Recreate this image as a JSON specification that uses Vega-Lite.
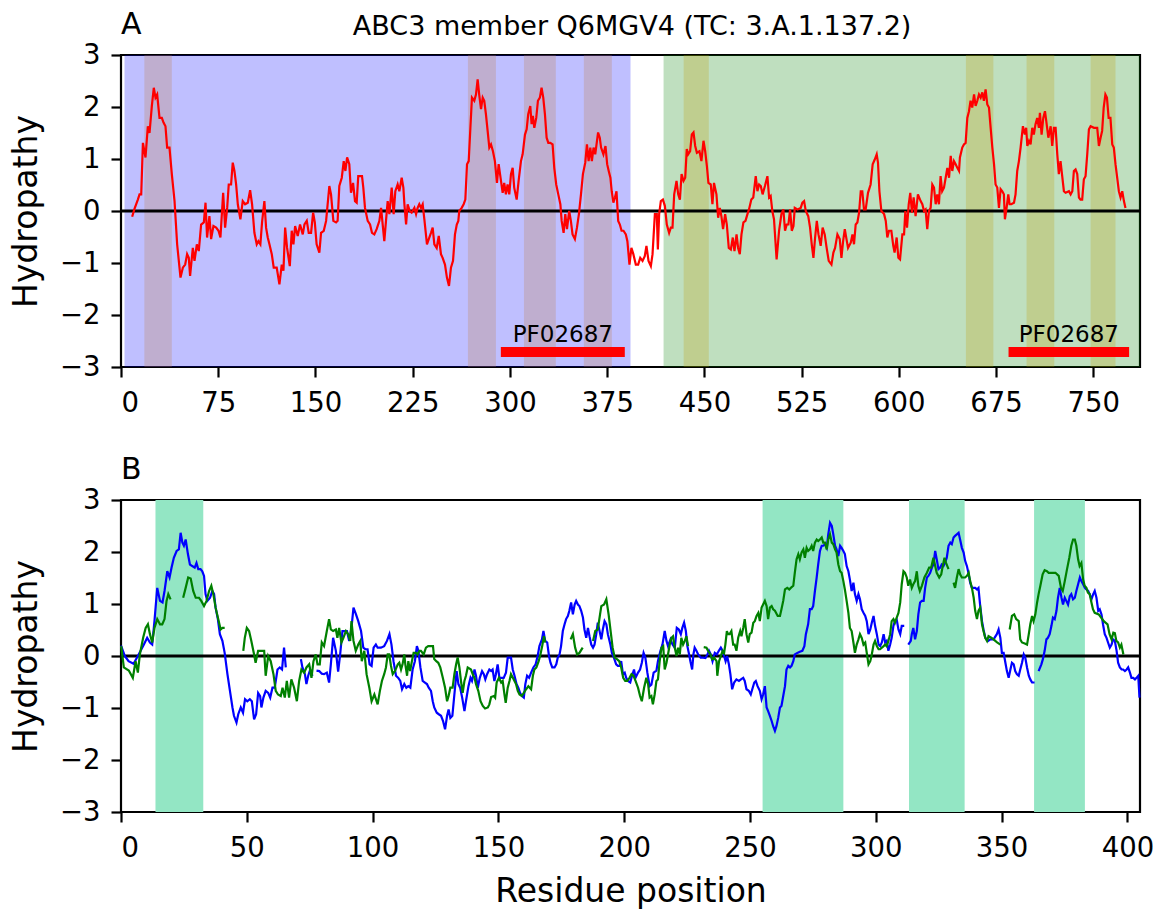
{
"$schema": "https://vega.github.io/schema/vega-lite/v6.json",
"background": "white",
"padding": {"left": 9, "top": 9, "right": 5, "bottom": 5},
"title": {"text": "ABC3 member Q6MGV4 (TC: 3.A.1.137.2)", "anchor": "middle", "fontSize": 27, "fontWeight": "normal", "font": "DejaVu Sans", "color": "black", "offset": -52.6, "dx": 50, "baseline": "alphabetic"},
"config": {
  "font": "DejaVu Sans",
  "view": {"stroke": "black", "strokeWidth": 2.2},
  "axis": {"grid": false, "domain": false, "tickColor": "black", "tickWidth": 2.2, "tickSize": 10, "labelFont": "DejaVu Sans", "labelFontSize": 27.5, "labelColor": "black", "titleFont": "DejaVu Sans", "titleFontSize": 33, "titleFontWeight": "normal", "titleColor": "black"},
  "axisX": {"labelPadding": 12},
  "axisY": {"labelPadding": 11},
  "title": {"font": "DejaVu Sans", "fontWeight": "normal", "color": "black"}
},
"datasets": {
  "tmsA": [{"start":18.0,"end":39.2},{"start":267.6,"end":289.2},{"start":310.8,"end":335.4},{"start":357,"end":378.6},{"start":434,"end":453.4},{"start":651.7,"end":672.9},{"start":698.5,"end":719.9},{"start":747.9,"end":767.1}],
  "regionsA": [{"start":2.7,"end":393,"half":"first"},{"start":418.5,"end":786,"half":"second"}],
  "pfA": [{"start":293,"end":388.6,"center":340.8,"name":"PF02687"},{"start":684.6,"end":777.6,"center":731.1,"name":"PF02687"}],
  "spansB": [{"start":13.7,"end":32.7},{"start":255,"end":287.1},{"start":313.2,"end":335.3},{"start":362.9,"end":383.1}],
  "red": [
{"r":8.6,"h":-0.11},{"r":10.4,"h":0.04},{"r":13,"h":0.22},{"r":14.3,"h":0.32},{"r":15.6,"h":0.32},{"r":16.9,"h":1.31},{"r":18.9,"h":1.03},{"r":20.7,"h":1.63},{"r":22,"h":1.5},{"r":23.8,"h":2.02},{"r":25.3,"h":2.37},{"r":26.6,"h":2.18},{"r":27.9,"h":2.24},{"r":29.7,"h":1.79},{"r":31.5,"h":1.79},{"r":32.8,"h":1.7},{"r":34.3,"h":1.63},{"r":35.6,"h":1.22},{"r":37.4,"h":1.22},{"r":39.2,"h":0.71},{"r":41.3,"h":0.19},{"r":43.3,"h":-0.64},{"r":45.9,"h":-1.28},{"r":47.7,"h":-1.09},{"r":49.5,"h":-1.03},{"r":51,"h":-0.83},{"r":52.3,"h":-0.9},{"r":53.3,"h":-1.25},{"r":55.4,"h":-0.71},{"r":56.7,"h":-0.96},{"r":58.5,"h":-0.64},{"r":60,"h":-0.77},{"r":61.8,"h":-0.26},{"r":63.9,"h":-0.22},{"r":65.2,"h":0.16},{"r":66.4,"h":-0.51},{"r":68.2,"h":-0.1},{"r":69.5,"h":-0.54},{"r":71.3,"h":-0.29},{"r":73.4,"h":-0.32},{"r":75.2,"h":-0.38},{"r":76.7,"h":-0.51},{"r":78.8,"h":0.35},{"r":80.3,"h":-0.32},{"r":81.9,"h":0.06},{"r":83.1,"h":0.51},{"r":84.9,"h":0.51},{"r":86.2,"h":0.93},{"r":87.5,"h":0.77},{"r":88.8,"h":0.51},{"r":90.1,"h":0.13},{"r":92.1,"h":-0.16},{"r":93.9,"h":0.19},{"r":95.7,"h":0.13},{"r":97.8,"h":0.16},{"r":99.6,"h":0.4},{"r":101.1,"h":0.13},{"r":102.9,"h":-0.42},{"r":104.7,"h":-0.64},{"r":106,"h":-0.58},{"r":107.5,"h":-0.64},{"r":108.8,"h":-0.22},{"r":110.6,"h":0.19},{"r":111.9,"h":-0.32},{"r":113.2,"h":-0.51},{"r":114.5,"h":-0.64},{"r":116.3,"h":-0.83},{"r":117.8,"h":-1.09},{"r":120.1,"h":-1.09},{"r":122.2,"h":-1.41},{"r":124,"h":-1.03},{"r":125.3,"h":-1.15},{"r":126.6,"h":-0.32},{"r":128.1,"h":-0.71},{"r":130.2,"h":-1.06},{"r":131.7,"h":-0.38},{"r":133,"h":-0.64},{"r":134.3,"h":-0.29},{"r":136.3,"h":-0.48},{"r":138.1,"h":-0.26},{"r":140.2,"h":-0.45},{"r":141.5,"h":-0.26},{"r":143.3,"h":-0.19},{"r":144.8,"h":-0.42},{"r":146.6,"h":-0.42},{"r":148.2,"h":-0.03},{"r":149.5,"h":-0.22},{"r":150.9,"h":-0.64},{"r":153,"h":-0.8},{"r":154.3,"h":-0.42},{"r":156.4,"h":-0.38},{"r":158.2,"h":-0.19},{"r":160.7,"h":0.48},{"r":162,"h":0.32},{"r":163.8,"h":-0.19},{"r":165.9,"h":-0.22},{"r":167.1,"h":-0.19},{"r":168.4,"h":0.48},{"r":170.3,"h":0.64},{"r":171.8,"h":0.96},{"r":173.1,"h":0.77},{"r":174.4,"h":1.03},{"r":176.1,"h":0.9},{"r":177.4,"h":0.35},{"r":179,"h":0.54},{"r":180.5,"h":0.19},{"r":181.8,"h":0.16},{"r":183,"h":0.67},{"r":184.5,"h":0.67},{"r":185.9,"h":0.67},{"r":186.9,"h":0.45},{"r":188.2,"h":0.06},{"r":190.3,"h":-0.19},{"r":192.1,"h":-0.26},{"r":193.6,"h":-0.42},{"r":195.4,"h":-0.45},{"r":197.2,"h":-0.35},{"r":199.3,"h":-0.19},{"r":200.6,"h":0.06},{"r":203.1,"h":-0.58},{"r":204.4,"h":-0.19},{"r":205.7,"h":0.19},{"r":207,"h":-0.06},{"r":208.8,"h":0.45},{"r":210.3,"h":-0.06},{"r":211.6,"h":0.38},{"r":213.4,"h":0.51},{"r":214.7,"h":0.38},{"r":216.5,"h":0.64},{"r":217.8,"h":0.45},{"r":218.6,"h":0.13},{"r":219.9,"h":-0.26},{"r":221.1,"h":0.13},{"r":222.7,"h":0},{"r":224.2,"h":-0.03},{"r":226.3,"h":0.06},{"r":227.6,"h":-0.06},{"r":228.8,"h":0.06},{"r":230.1,"h":0.13},{"r":231.4,"h":0.06},{"r":232.7,"h":0.13},{"r":234,"h":-0.16},{"r":236,"h":-0.64},{"r":237.8,"h":-0.51},{"r":239.1,"h":-0.42},{"r":240.4,"h":-0.32},{"r":241.7,"h":-0.64},{"r":243.5,"h":-0.71},{"r":245.1,"h":-0.48},{"r":246.8,"h":-0.83},{"r":248.1,"h":-0.9},{"r":249.9,"h":-1.03},{"r":251.4,"h":-1.28},{"r":253,"h":-1.44},{"r":254.5,"h":-1.09},{"r":256.1,"h":-0.96},{"r":257.6,"h":-0.45},{"r":259,"h":-0.26},{"r":260.2,"h":-0.19},{"r":260.9,"h":0},{"r":262.8,"h":0.06},{"r":264.3,"h":0.13},{"r":265.6,"h":0.22},{"r":266.9,"h":0.9},{"r":268.2,"h":0.96},{"r":269.5,"h":1.6},{"r":270.7,"h":2.18},{"r":272.5,"h":2.12},{"r":273.8,"h":2.24},{"r":275.1,"h":2.53},{"r":276.3,"h":2.24},{"r":277.7,"h":1.96},{"r":279,"h":2.18},{"r":280.2,"h":2.12},{"r":281.5,"h":1.86},{"r":282.8,"h":1.54},{"r":284.1,"h":1.22},{"r":285.4,"h":1.28},{"r":286.9,"h":1.15},{"r":288.4,"h":0.96},{"r":290,"h":0.54},{"r":291.3,"h":0.9},{"r":293.1,"h":0.58},{"r":294.4,"h":0.35},{"r":295.6,"h":0.54},{"r":296.9,"h":0.32},{"r":298.2,"h":0.51},{"r":299.5,"h":0.32},{"r":300.8,"h":0.71},{"r":302.1,"h":0.83},{"r":303.3,"h":0.45},{"r":305.2,"h":0.22},{"r":306.7,"h":0.58},{"r":308.5,"h":0.96},{"r":309.8,"h":1.09},{"r":311.6,"h":1.47},{"r":312.9,"h":1.57},{"r":314.1,"h":1.86},{"r":315.7,"h":2.02},{"r":316.7,"h":1.67},{"r":317.7,"h":1.83},{"r":318.8,"h":1.6},{"r":320.3,"h":1.79},{"r":321.6,"h":2.12},{"r":323.1,"h":2.18},{"r":324.4,"h":2.37},{"r":325.7,"h":2.18},{"r":327,"h":1.86},{"r":328.3,"h":1.41},{"r":329.6,"h":1.31},{"r":331.1,"h":1.31},{"r":332.9,"h":1.28},{"r":334.2,"h":0.83},{"r":335.7,"h":0.51},{"r":337.3,"h":0.32},{"r":338.9,"h":0.13},{"r":339.9,"h":-0.19},{"r":341.4,"h":-0.42},{"r":342.7,"h":-0.06},{"r":344,"h":-0.35},{"r":345.7,"h":0},{"r":347,"h":-0.19},{"r":348.3,"h":-0.45},{"r":350.1,"h":-0.54},{"r":351.7,"h":-0.32},{"r":353.2,"h":-0.06},{"r":354.8,"h":0.32},{"r":356.3,"h":0.71},{"r":358.1,"h":0.93},{"r":359.4,"h":1.28},{"r":360.7,"h":0.96},{"r":362,"h":1.22},{"r":363.2,"h":0.96},{"r":364.5,"h":1.22},{"r":365.8,"h":1.09},{"r":368,"h":1.51},{"r":369.3,"h":1.41},{"r":370.3,"h":1.22},{"r":372.1,"h":1.09},{"r":373.7,"h":1.25},{"r":375,"h":0.9},{"r":376.2,"h":0.77},{"r":377.5,"h":0.64},{"r":378.5,"h":0.38},{"r":379.8,"h":0.16},{"r":381,"h":0.26},{"r":382.2,"h":0.38},{"r":383.5,"h":-0.19},{"r":384.8,"h":-0.26},{"r":386.1,"h":-0.38},{"r":387.6,"h":-0.38},{"r":389.4,"h":-0.45},{"r":390.6,"h":-0.58},{"r":392.2,"h":-1.03},{"r":393.7,"h":-0.71},{"r":395.2,"h":-0.83},{"r":397.1,"h":-1.03},{"r":398.9,"h":-1.03},{"r":400.5,"h":-0.9},{"r":402.3,"h":-0.96},{"r":404,"h":-0.87},{"r":405.3,"h":-0.67},{"r":406.9,"h":-0.96},{"r":408.7,"h":-1.06},{"r":410,"h":-0.83},{"r":411.8,"h":-0.06},{"r":413.3,"h":-0.06},{"r":414.1,"h":-0.74},{"r":415.1,"h":-0.06},{"r":416.4,"h":0.19},{"r":418,"h":0.22},{"r":419.5,"h":0.1},{"r":421,"h":-0.26},{"r":422.8,"h":-0.42},{"r":424.1,"h":-0.32},{"r":425.4,"h":-0.32},{"r":426.7,"h":0.32},{"r":428.5,"h":0.58},{"r":429.8,"h":0.32},{"r":431.1,"h":0.22},{"r":432.4,"h":0.71},{"r":433.9,"h":0.58},{"r":435.2,"h":0.64},{"r":436.4,"h":1.19},{"r":437.5,"h":1.09},{"r":439,"h":1.15},{"r":440.3,"h":1.47},{"r":441.6,"h":1.51},{"r":442.9,"h":1.25},{"r":444.2,"h":1.12},{"r":446.2,"h":1.15},{"r":447.7,"h":0.96},{"r":449.3,"h":1.35},{"r":450.6,"h":1.15},{"r":451.9,"h":0.87},{"r":453.1,"h":0.54},{"r":454.9,"h":0.51},{"r":456.2,"h":0.13},{"r":457.4,"h":0.54},{"r":459.3,"h":0.32},{"r":460.6,"h":-0.13},{"r":461.9,"h":0.06},{"r":463.1,"h":-0.1},{"r":464.4,"h":-0.35},{"r":466,"h":-0.06},{"r":467.3,"h":-0.26},{"r":468.8,"h":-0.71},{"r":470.4,"h":-0.74},{"r":471.9,"h":-0.51},{"r":473.2,"h":-0.77},{"r":474.8,"h":-0.45},{"r":476,"h":-0.71},{"r":477.3,"h":-0.83},{"r":478.6,"h":-0.45},{"r":480.1,"h":-0.22},{"r":481.7,"h":-0.19},{"r":483.2,"h":-0.06},{"r":484.4,"h":0.03},{"r":486.2,"h":0.22},{"r":487.7,"h":0.26},{"r":489.6,"h":0.67},{"r":490.9,"h":0.38},{"r":492.2,"h":0.51},{"r":493.5,"h":0.48},{"r":494.9,"h":0.32},{"r":496.7,"h":0.48},{"r":498.6,"h":0.67},{"r":499.9,"h":0.26},{"r":501.1,"h":0.29},{"r":502.4,"h":0},{"r":503.7,"h":-0.16},{"r":505.7,"h":-0.93},{"r":507.6,"h":-0.38},{"r":509.4,"h":-0.06},{"r":510.9,"h":0.03},{"r":512.2,"h":-0.38},{"r":513.5,"h":-0.26},{"r":514.8,"h":-0.26},{"r":516.1,"h":0.03},{"r":517.4,"h":-0.38},{"r":518.7,"h":-0.29},{"r":519.7,"h":0.06},{"r":521.8,"h":0.03},{"r":524.3,"h":0.06},{"r":525.6,"h":0.16},{"r":526.9,"h":0.19},{"r":528.2,"h":0},{"r":530.1,"h":-0.1},{"r":531.5,"h":-0.32},{"r":532.8,"h":-0.64},{"r":534.1,"h":-0.9},{"r":535.4,"h":-0.51},{"r":536.7,"h":-0.19},{"r":538,"h":-0.45},{"r":539.7,"h":-0.67},{"r":541.2,"h":-0.32},{"r":542.8,"h":-0.45},{"r":544.3,"h":-0.71},{"r":545.9,"h":-0.96},{"r":548,"h":-1.03},{"r":549.5,"h":-0.8},{"r":550.8,"h":-0.71},{"r":552.6,"h":-0.45},{"r":554.4,"h":-0.54},{"r":555.7,"h":-0.9},{"r":557,"h":-0.58},{"r":558.3,"h":-0.35},{"r":559.6,"h":-0.54},{"r":560.8,"h":-0.71},{"r":562.9,"h":-0.61},{"r":564.2,"h":-0.45},{"r":565.4,"h":-0.64},{"r":566.7,"h":-0.26},{"r":568,"h":-0.22},{"r":569.3,"h":-0.03},{"r":570.6,"h":0.38},{"r":571.8,"h":0.38},{"r":573.1,"h":0.03},{"r":574.4,"h":0.03},{"r":576.2,"h":0.35},{"r":578.2,"h":0.51},{"r":579.8,"h":0.9},{"r":581.4,"h":0.99},{"r":582.9,"h":1.09},{"r":583.9,"h":0.93},{"r":585,"h":0.38},{"r":586.5,"h":0},{"r":588.6,"h":-0.06},{"r":589.9,"h":-0.19},{"r":591.1,"h":-0.51},{"r":592.4,"h":-0.38},{"r":594.2,"h":-0.38},{"r":595.7,"h":-0.67},{"r":596.7,"h":-0.8},{"r":598.3,"h":-0.51},{"r":599.6,"h":-0.9},{"r":600.9,"h":-0.93},{"r":602.7,"h":-0.45},{"r":604,"h":-0.45},{"r":605,"h":0},{"r":606.3,"h":-0.32},{"r":607.6,"h":0.13},{"r":608.8,"h":0.35},{"r":610.1,"h":-0.03},{"r":611.4,"h":0.26},{"r":612.9,"h":-0.1},{"r":614.7,"h":0.32},{"r":616.8,"h":0.19},{"r":618.1,"h":0.13},{"r":619.4,"h":0},{"r":620.6,"h":0.03},{"r":621.9,"h":-0.35},{"r":623.2,"h":0},{"r":624.5,"h":0.06},{"r":625.8,"h":0.51},{"r":627.1,"h":0.45},{"r":628.4,"h":0.13},{"r":629.6,"h":0.32},{"r":630.9,"h":0.13},{"r":632.2,"h":0.67},{"r":633.4,"h":0.38},{"r":634.8,"h":0.45},{"r":636.1,"h":0.64},{"r":637.4,"h":0.83},{"r":638.7,"h":0.64},{"r":640,"h":1.06},{"r":641.2,"h":0.77},{"r":642.5,"h":0.96},{"r":643.8,"h":0.9},{"r":645.1,"h":0.83},{"r":646.4,"h":0.77},{"r":647.1,"h":1.03},{"r":648.9,"h":1.22},{"r":650.2,"h":1.28},{"r":651.5,"h":1.31},{"r":652.8,"h":1.79},{"r":654.1,"h":1.92},{"r":655.3,"h":2.12},{"r":656.6,"h":1.99},{"r":658,"h":2.24},{"r":659.2,"h":2.02},{"r":660.5,"h":2.12},{"r":661.8,"h":2.24},{"r":663.1,"h":2.18},{"r":664.4,"h":2.28},{"r":665.6,"h":2.12},{"r":666.9,"h":2.34},{"r":668.2,"h":2.05},{"r":669.5,"h":1.99},{"r":670.8,"h":1.6},{"r":672.1,"h":1.22},{"r":673.4,"h":0.9},{"r":674.6,"h":0.51},{"r":675.9,"h":0.45},{"r":677.2,"h":0.06},{"r":678.5,"h":0.42},{"r":679.8,"h":0.38},{"r":681,"h":0.32},{"r":681.8,"h":-0.16},{"r":683.1,"h":0.06},{"r":684.4,"h":0.32},{"r":685.4,"h":0.13},{"r":686.7,"h":0.13},{"r":688.8,"h":0.16},{"r":690,"h":0.32},{"r":691.3,"h":0.77},{"r":692.6,"h":0.96},{"r":693.9,"h":1.22},{"r":695.7,"h":1.63},{"r":697.2,"h":1.47},{"r":698.2,"h":1.6},{"r":699.1,"h":1.25},{"r":700.4,"h":1.35},{"r":701.6,"h":1.28},{"r":702.9,"h":1.6},{"r":704.1,"h":1.47},{"r":705.4,"h":1.67},{"r":706.7,"h":1.79},{"r":708,"h":1.6},{"r":708.8,"h":1.89},{"r":710.1,"h":1.47},{"r":711.4,"h":1.79},{"r":712.7,"h":1.92},{"r":714,"h":1.67},{"r":715.3,"h":1.41},{"r":717.1,"h":1.63},{"r":718.3,"h":1.25},{"r":719.6,"h":1.6},{"r":720.9,"h":1.6},{"r":722.2,"h":1.09},{"r":723.4,"h":0.71},{"r":724.7,"h":0.96},{"r":726,"h":0.67},{"r":727.3,"h":0.38},{"r":728.6,"h":0.35},{"r":731.2,"h":0.38},{"r":732.5,"h":0.32},{"r":733.8,"h":0.38},{"r":735,"h":0.77},{"r":736.3,"h":0.8},{"r":737.6,"h":0.71},{"r":738.9,"h":0.26},{"r":740.1,"h":0.22},{"r":741.4,"h":0.22},{"r":742.7,"h":0.61},{"r":744,"h":0.67},{"r":745.3,"h":1.09},{"r":746.6,"h":1.57},{"r":747.9,"h":1.63},{"r":750.5,"h":1.6},{"r":753,"h":1.6},{"r":754.3,"h":1.25},{"r":755.6,"h":1.41},{"r":756.8,"h":1.54},{"r":758,"h":1.99},{"r":759.3,"h":2.24},{"r":760.5,"h":2.18},{"r":761.8,"h":1.79},{"r":763.2,"h":1.79},{"r":764.6,"h":1.28},{"r":765.8,"h":1.22},{"r":767.1,"h":0.9},{"r":768.4,"h":0.64},{"r":769.7,"h":0.38},{"r":771,"h":0.26},{"r":772.3,"h":0.38},{"r":773.6,"h":0.19},{"r":774.8,"h":0.06}
  ],
  "blue": [
{"r":0,"h":0.2,"s":1},{"r":1.5,"h":0.0,"s":1},{"r":3,"h":-0.1,"s":1},{"r":5,"h":-0.15,"s":1},{"r":6.7,"h":0,"s":1},{"r":7.8,"h":0.1,"s":1},{"r":9.1,"h":0.22,"s":1},{"r":10.4,"h":0.35,"s":1},{"r":11.5,"h":0.26,"s":1},{"r":12.4,"h":0.22,"s":1},{"r":13.3,"h":0.67,"s":1},{"r":14.4,"h":1.31,"s":1},{"r":15.5,"h":1.06,"s":1},{"r":16.5,"h":1.03,"s":1},{"r":17.3,"h":1.25,"s":1},{"r":18.4,"h":1.63,"s":1},{"r":19.3,"h":1.51,"s":1},{"r":20.1,"h":1.7,"s":1},{"r":21,"h":1.89,"s":1},{"r":22.1,"h":2.02,"s":1},{"r":23,"h":2.05,"s":1},{"r":23.7,"h":2.37,"s":1},{"r":24.4,"h":2.18,"s":1},{"r":25,"h":2.12,"s":1},{"r":25.7,"h":2.24,"s":1},{"r":26.6,"h":1.96,"s":1},{"r":27.4,"h":1.76,"s":1},{"r":28.3,"h":1.73,"s":1},{"r":29.3,"h":1.7,"s":1},{"r":30,"h":1.79,"s":1},{"r":30.7,"h":1.67,"s":1},{"r":31.6,"h":1.67,"s":1},{"r":32.3,"h":1.63,"s":1},{"r":33,"h":1.54,"s":1},{"r":33.6,"h":1.19,"s":1},{"r":34.3,"h":1.06,"s":1},{"r":35.4,"h":1.12,"s":1},{"r":36.3,"h":1.25,"s":1},{"r":37,"h":1.19,"s":1},{"r":37.6,"h":0.93,"s":1},{"r":38.5,"h":0.71,"s":1},{"r":39.3,"h":0.42,"s":1},{"r":40.3,"h":0.29,"s":1},{"r":41.2,"h":0.06,"s":1},{"r":42.3,"h":-0.35,"s":1},{"r":43.3,"h":-0.67,"s":1},{"r":44.3,"h":-0.99,"s":1},{"r":44.9,"h":-1.15,"s":1},{"r":45.9,"h":-1.28,"s":1},{"r":46.6,"h":-1.12,"s":1},{"r":47.6,"h":-0.99,"s":1},{"r":48.5,"h":-1.09,"s":1},{"r":49.3,"h":-0.83,"s":1},{"r":50.2,"h":-0.87,"s":1},{"r":51.2,"h":-0.83,"s":1},{"r":52,"h":-0.87,"s":1},{"r":52.9,"h":-1.22,"s":1},{"r":53.7,"h":-1.12,"s":1},{"r":54.5,"h":-0.71,"s":1},{"r":55.3,"h":-0.77,"s":1},{"r":55.8,"h":-0.99,"s":1},{"r":56.6,"h":-0.8,"s":1},{"r":57.5,"h":-0.67,"s":1},{"r":58.5,"h":-0.71,"s":1},{"r":59.3,"h":-0.8,"s":1},{"r":60.2,"h":-0.61,"s":1},{"r":61.1,"h":-0.61,"s":1},{"r":62.2,"h":-0.26,"s":1},{"r":63.1,"h":-0.22,"s":1},{"r":64,"h":-0.26,"s":1},{"r":64.8,"h":0.16,"s":1},{"r":65.5,"h":-0.22,"s":1},
{"r":71.5,"h":-0.06,"s":2},{"r":72.1,"h":-0.22,"s":2},{"r":73.1,"h":-0.35,"s":2},{"r":73.7,"h":-0.54,"s":2},{"r":74.4,"h":-0.38,"s":2},{"r":75.2,"h":-0.26,"s":2},{"r":76.1,"h":-0.38,"s":2},
{"r":77.7,"h":-0.28,"s":3},{"r":78.8,"h":-0.29,"s":3},{"r":79.8,"h":-0.34,"s":3},{"r":80.7,"h":-0.35,"s":3},{"r":81.8,"h":-0.32,"s":3},{"r":82.7,"h":-0.51,"s":3},{"r":83.4,"h":-0.16,"s":3},{"r":84.3,"h":0.35,"s":3},{"r":85.4,"h":0.1,"s":3},{"r":86.3,"h":-0.3,"s":3},{"r":87.1,"h":0.03,"s":3},{"r":88,"h":0.48,"s":3},{"r":89,"h":0.48,"s":3},{"r":89.8,"h":0.48,"s":3},{"r":90.7,"h":0.29,"s":3},{"r":91.6,"h":0.54,"s":3},{"r":92.4,"h":0.93,"s":3},{"r":93.4,"h":0.8,"s":3},{"r":94.3,"h":0.67,"s":3},{"r":95.4,"h":0.48,"s":3},{"r":96.3,"h":0.16,"s":3},{"r":97.1,"h":0.13,"s":3},{"r":98,"h":0.13,"s":3},{"r":98.8,"h":-0.16,"s":3},{"r":99.6,"h":-0.19,"s":3},{"r":100.4,"h":0.16,"s":3},{"r":101.3,"h":0.22,"s":3},{"r":102,"h":0.16,"s":3},{"r":103.3,"h":0.16,"s":3},{"r":104.6,"h":0.19,"s":3},{"r":105.7,"h":0.29,"s":3},{"r":106.7,"h":0.42,"s":3},{"r":107.5,"h":0.22,"s":3},{"r":108.3,"h":-0.1,"s":3},{"r":109.3,"h":-0.38,"s":3},{"r":110.2,"h":-0.42,"s":3},{"r":111,"h":-0.48,"s":3},{"r":111.7,"h":-0.64,"s":3},{"r":112.6,"h":-0.54,"s":3},{"r":113.4,"h":-0.61,"s":3},{"r":114.2,"h":-0.58,"s":3},{"r":115,"h":-0.61,"s":3},{"r":115.9,"h":-0.26,"s":3},{"r":116.8,"h":-0.1,"s":3},{"r":117.6,"h":0.19,"s":3},{"r":118.2,"h":0.1,"s":3},{"r":119,"h":-0.22,"s":3},{"r":119.9,"h":-0.48,"s":3},{"r":120.8,"h":-0.51,"s":3},{"r":121.6,"h":-0.54,"s":3},{"r":122.3,"h":-0.61,"s":3},{"r":123.2,"h":-0.67,"s":3},{"r":123.9,"h":-0.87,"s":3},{"r":124.5,"h":-0.99,"s":3},{"r":125.5,"h":-1.09,"s":3},{"r":126.3,"h":-1.12,"s":3},{"r":127.2,"h":-1.15,"s":3},{"r":128,"h":-1.25,"s":3},{"r":128.8,"h":-1.41,"s":3},{"r":129.6,"h":-1.15,"s":3},{"r":130.2,"h":-1.03,"s":3},{"r":130.9,"h":-1.19,"s":3},{"r":131.7,"h":-1.15,"s":3},{"r":132.5,"h":-0.74,"s":3},{"r":133.4,"h":-0.29,"s":3},{"r":134.1,"h":-0.54,"s":3},{"r":134.8,"h":-0.61,"s":3},{"r":135.6,"h":-0.8,"s":3},{"r":136.5,"h":-1.06,"s":3},{"r":137.1,"h":-0.87,"s":3},{"r":138.1,"h":-0.58,"s":3},{"r":138.9,"h":-0.42,"s":3},{"r":139.5,"h":-0.48,"s":3},{"r":140.5,"h":-0.26,"s":3},{"r":141.1,"h":-0.38,"s":3},{"r":141.8,"h":-0.61,"s":3},{"r":142.6,"h":-0.42,"s":3},{"r":143.5,"h":-0.29,"s":3},{"r":144.2,"h":-0.35,"s":3},{"r":144.8,"h":-0.45,"s":3},{"r":145.5,"h":-0.35,"s":3},{"r":146.4,"h":-0.26,"s":3},{"r":147.1,"h":-0.29,"s":3},{"r":147.7,"h":-0.26,"s":3},{"r":148.4,"h":-0.48,"s":3},{"r":149,"h":-0.35,"s":3},{"r":149.7,"h":-0.16,"s":3},{"r":150.4,"h":-0.42,"s":3},{"r":151.3,"h":-0.42,"s":3},{"r":152.1,"h":-0.42,"s":3},{"r":153,"h":-0.32,"s":3},{"r":153.7,"h":-0.03,"s":3},{"r":155,"h":-0.03,"s":3},{"r":155.7,"h":-0.26,"s":3},{"r":156.4,"h":-0.38,"s":3},{"r":157.2,"h":-0.54,"s":3},{"r":157.9,"h":-0.61,"s":3},{"r":158.6,"h":-0.71,"s":3},{"r":159.4,"h":-0.77,"s":3},{"r":160.1,"h":-0.8,"s":3},{"r":160.7,"h":-0.54,"s":3},{"r":161.4,"h":-0.38,"s":3},{"r":162.2,"h":-0.42,"s":3},{"r":163,"h":-0.32,"s":3},{"r":163.9,"h":-0.22,"s":3},{"r":164.8,"h":-0.16,"s":3},{"r":165.6,"h":0,"s":3},{"r":166.3,"h":0.19,"s":3},{"r":167.3,"h":0.32,"s":3},{"r":167.9,"h":0.48,"s":3},{"r":168.6,"h":0.29,"s":3},{"r":169.4,"h":0.26,"s":3},{"r":170.1,"h":0,"s":3},{"r":170.7,"h":-0.13,"s":3},{"r":171.4,"h":-0.22,"s":3},{"r":172.3,"h":-0.22,"s":3},{"r":173,"h":-0.16,"s":3},{"r":173.6,"h":-0.03,"s":3},{"r":174.3,"h":0.03,"s":3},{"r":174.9,"h":0.19,"s":3},{"r":175.6,"h":0.48,"s":3},{"r":176.3,"h":0.61,"s":3},{"r":176.9,"h":0.71,"s":3},{"r":177.6,"h":0.77,"s":3},{"r":178.2,"h":0.87,"s":3},{"r":178.9,"h":1.03,"s":3},{"r":179.6,"h":0.8,"s":3},{"r":180.3,"h":0.99,"s":3},{"r":180.9,"h":1.06,"s":3},{"r":181.6,"h":0.99,"s":3},{"r":182.2,"h":0.96,"s":3},{"r":182.9,"h":0.87,"s":3},{"r":183.6,"h":0.74,"s":3},{"r":184.2,"h":0.51,"s":3},{"r":184.9,"h":0.35,"s":3},{"r":185.6,"h":0.54,"s":3},{"r":186.2,"h":0.38,"s":3},{"r":186.9,"h":0.22,"s":3},{"r":187.6,"h":0.16,"s":3},{"r":188.2,"h":0.22,"s":3},{"r":188.9,"h":0.42,"s":3},{"r":189.5,"h":0.64,"s":3},{"r":190.2,"h":0.48,"s":3},{"r":190.9,"h":0.32,"s":3},{"r":191.5,"h":0.51,"s":3},{"r":192.2,"h":0.67,"s":3},{"r":192.9,"h":0.61,"s":3},{"r":193.5,"h":0.42,"s":3},{"r":194.5,"h":0.22,"s":3},{"r":195.1,"h":0.06,"s":3},{"r":195.9,"h":-0.03,"s":3},{"r":196.8,"h":-0.16,"s":3},{"r":197.5,"h":-0.19,"s":3},{"r":198.2,"h":-0.19,"s":3},{"r":198.8,"h":-0.1,"s":3},{"r":199.5,"h":-0.35,"s":3},{"r":200.2,"h":-0.32,"s":3},{"r":200.8,"h":-0.42,"s":3},{"r":201.5,"h":-0.48,"s":3},{"r":202.4,"h":-0.51,"s":3},{"r":203.1,"h":-0.38,"s":3},{"r":203.9,"h":-0.26,"s":3},{"r":204.5,"h":-0.42,"s":3},{"r":205.5,"h":-0.32,"s":3},{"r":206.3,"h":-0.26,"s":3},{"r":207,"h":-0.13,"s":3},{"r":207.7,"h":0.06,"s":3},{"r":208.4,"h":-0.03,"s":3},{"r":209.2,"h":-0.32,"s":3},{"r":210.1,"h":-0.58,"s":3},{"r":210.8,"h":-0.55,"s":3},{"r":211.7,"h":-0.32,"s":3},{"r":212.8,"h":-0.28,"s":3},{"r":213.4,"h":-0.1,"s":3},{"r":214.4,"h":0.1,"s":3},{"r":215.2,"h":0.22,"s":3},{"r":216.1,"h":0.48,"s":3},{"r":216.8,"h":0.29,"s":3},{"r":217.4,"h":0.19,"s":3},{"r":218.4,"h":0.32,"s":3},{"r":219.2,"h":0.22,"s":3},{"r":220.1,"h":0.16,"s":3},{"r":220.9,"h":0.54,"s":3},{"r":221.7,"h":0.51,"s":3},{"r":222.5,"h":0.42,"s":3},{"r":223.1,"h":0.54,"s":3},{"r":223.8,"h":0.64,"s":3},{"r":224.5,"h":0.48,"s":3},{"r":225.1,"h":0.19,"s":3},{"r":225.8,"h":0.03,"s":3},{"r":226.3,"h":-0.1,"s":3},{"r":227,"h":-0.26,"s":3},{"r":227.5,"h":0.03,"s":3},{"r":228,"h":0.16,"s":3},{"r":228.7,"h":0.1,"s":3},{"r":229.4,"h":0.03,"s":3},{"r":230.4,"h":-0.03,"s":3},{"r":231.4,"h":-0.03,"s":3},{"r":232.3,"h":-0.04,"s":3},{"r":233.1,"h":0.03,"s":3},{"r":233.7,"h":0.1,"s":3},{"r":234.4,"h":0.03,"s":3},{"r":235.1,"h":-0.1,"s":3},{"r":236,"h":0.06,"s":3},{"r":236.8,"h":0.03,"s":3},{"r":237.6,"h":0.1,"s":3},{"r":238.4,"h":0.16,"s":3},{"r":239.1,"h":0.1,"s":3},{"r":239.7,"h":0,"s":3},{"r":240.3,"h":-0.1,"s":3},{"r":240.9,"h":0,"s":3},{"r":241.6,"h":-0.16,"s":3},{"r":242.2,"h":-0.35,"s":3},{"r":242.9,"h":-0.64,"s":3},{"r":243.7,"h":-0.51,"s":3},{"r":244.6,"h":-0.45,"s":3},{"r":245.6,"h":-0.48,"s":3},{"r":246.4,"h":-0.45,"s":3},{"r":247.3,"h":-0.42,"s":3},{"r":247.9,"h":-0.48,"s":3},{"r":248.6,"h":-0.64,"s":3},{"r":249.5,"h":-0.67,"s":3},{"r":250.3,"h":-0.74,"s":3},{"r":250.9,"h":-0.64,"s":3},{"r":251.7,"h":-0.51,"s":3},{"r":252.3,"h":-0.48,"s":3},{"r":253,"h":-0.58,"s":3},{"r":253.9,"h":-0.67,"s":3},{"r":254.6,"h":-0.83,"s":3},{"r":255.2,"h":-0.74,"s":3},{"r":255.9,"h":-0.58,"s":3},{"r":256.6,"h":-0.99,"s":3},{"r":257.2,"h":-1.06,"s":3},{"r":257.9,"h":-1.15,"s":3},{"r":258.6,"h":-1.25,"s":3},{"r":259.2,"h":-1.35,"s":3},{"r":259.9,"h":-1.44,"s":3},{"r":260.5,"h":-1.35,"s":3},{"r":261.2,"h":-1.19,"s":3},{"r":261.9,"h":-0.99,"s":3},{"r":262.5,"h":-0.96,"s":3},{"r":263.2,"h":-0.77,"s":3},{"r":263.9,"h":-0.58,"s":3},{"r":264.5,"h":-0.26,"s":3},{"r":265.2,"h":-0.19,"s":3},{"r":265.9,"h":-0.22,"s":3},{"r":266.5,"h":-0.19,"s":3},{"r":267.2,"h":-0.1,"s":3},{"r":267.8,"h":0.03,"s":3},{"r":268.8,"h":0.06,"s":3},{"r":269.8,"h":0.08,"s":3},{"r":270.8,"h":0.1,"s":3},{"r":271.6,"h":0.19,"s":3},{"r":272.2,"h":0.42,"s":3},{"r":273.1,"h":0.61,"s":3},{"r":273.8,"h":0.9,"s":3},{"r":274.5,"h":0.9,"s":3},{"r":275.1,"h":0.96,"s":3},{"r":275.8,"h":1.25,"s":3},{"r":276.5,"h":1.51,"s":3},{"r":277.1,"h":1.76,"s":3},{"r":277.8,"h":2.02,"s":3},{"r":278.5,"h":2.12,"s":3},{"r":279.1,"h":2.12,"s":3},{"r":279.8,"h":2.15,"s":3},{"r":280.5,"h":2.08,"s":3},{"r":281.1,"h":2.34,"s":3},{"r":281.8,"h":2.56,"s":3},{"r":282.5,"h":2.5,"s":3},{"r":283.1,"h":2.34,"s":3},{"r":283.8,"h":2.12,"s":3},{"r":284.4,"h":2.05,"s":3},{"r":285.1,"h":1.92,"s":3},{"r":285.8,"h":2.12,"s":3},{"r":286.4,"h":2.08,"s":3},{"r":287.1,"h":2.02,"s":3},{"r":287.7,"h":1.96,"s":3},{"r":288.4,"h":1.73,"s":3},{"r":289.1,"h":1.63,"s":3},{"r":289.7,"h":1.47,"s":3},{"r":290.4,"h":1.25,"s":3},{"r":291.1,"h":1.41,"s":3},{"r":291.7,"h":1.19,"s":3},{"r":292.4,"h":1.06,"s":3},{"r":293.1,"h":1.19,"s":3},{"r":293.7,"h":1.09,"s":3},{"r":294.4,"h":0.9,"s":3},{"r":295.1,"h":0.83,"s":3},{"r":295.8,"h":0.77,"s":3},{"r":296.4,"h":0.67,"s":3},{"r":297.1,"h":0.42,"s":3},{"r":297.8,"h":0.51,"s":3},{"r":298.4,"h":0.64,"s":3},{"r":299.1,"h":0.77,"s":3},{"r":299.7,"h":0.58,"s":3},{"r":300.4,"h":0.42,"s":3},{"r":301.1,"h":0.22,"s":3},{"r":301.7,"h":0.19,"s":3},{"r":302.4,"h":0.26,"s":3},{"r":303.1,"h":0.42,"s":3},{"r":303.7,"h":0.26,"s":3},{"r":304.3,"h":0.29,"s":3},{"r":305,"h":0.1,"s":3},{"r":305.7,"h":0.22,"s":3},{"r":306.3,"h":0.35,"s":3},{"r":307,"h":0.58,"s":3},{"r":307.6,"h":0.67,"s":3},{"r":308.3,"h":0.7,"s":3},{"r":309,"h":0.51,"s":3},{"r":309.7,"h":0.42,"s":3},{"r":310.3,"h":0.58,"s":3},{"r":311.3,"h":0.58,"s":3},
{"r":312.9,"h":0.22,"s":4},{"r":313.9,"h":0.29,"s":4},{"r":314.3,"h":0.42,"s":4},{"r":314.9,"h":0.54,"s":4},{"r":315.6,"h":0.32,"s":4},{"r":316.3,"h":0.48,"s":4},{"r":316.9,"h":0.8,"s":4},{"r":317.6,"h":1.03,"s":4},{"r":318.3,"h":1.06,"s":4},{"r":319,"h":1.06,"s":4},{"r":319.6,"h":1.31,"s":4},{"r":320.3,"h":1.51,"s":4},{"r":320.9,"h":1.54,"s":4},{"r":321.6,"h":1.6,"s":4},{"r":322.3,"h":1.7,"s":4},{"r":322.9,"h":1.76,"s":4},{"r":323.6,"h":2.02,"s":4},{"r":324.2,"h":1.86,"s":4},{"r":324.9,"h":1.67,"s":4},{"r":325.6,"h":1.7,"s":4},{"r":326.2,"h":1.76,"s":4},{"r":326.9,"h":1.73,"s":4},{"r":327.5,"h":1.79,"s":4},{"r":328.2,"h":1.89,"s":4},{"r":328.9,"h":2.12,"s":4},{"r":329.6,"h":2.18,"s":4},{"r":330.2,"h":2.15,"s":4},{"r":330.9,"h":2.28,"s":4},{"r":331.5,"h":2.31,"s":4},{"r":332.2,"h":2.34,"s":4},{"r":332.9,"h":2.37,"s":4},{"r":333.5,"h":2.24,"s":4},{"r":334.2,"h":2.08,"s":4},{"r":334.9,"h":1.99,"s":4},{"r":335.5,"h":1.83,"s":4},{"r":336.2,"h":1.73,"s":4},{"r":336.8,"h":1.6,"s":4},{"r":337.5,"h":1.41,"s":4},{"r":338.2,"h":1.31,"s":4},{"r":338.9,"h":1.31,"s":4},{"r":339.5,"h":1.31,"s":4},{"r":340.2,"h":1.28,"s":4},{"r":340.8,"h":1.31,"s":4},{"r":341.5,"h":0.96,"s":4},{"r":342.2,"h":0.67,"s":4},{"r":342.8,"h":0.51,"s":4},{"r":343.5,"h":0.35,"s":4},{"r":344.6,"h":0.29,"s":4},{"r":345.5,"h":0.32,"s":4},{"r":346.8,"h":0.32,"s":4},{"r":348.1,"h":0.42,"s":4},{"r":348.8,"h":0.51,"s":4},{"r":349.5,"h":0.35,"s":4},{"r":350.1,"h":0.06,"s":4},{"r":350.8,"h":0.06,"s":4},{"r":351.5,"h":-0.13,"s":4},{"r":352.1,"h":-0.29,"s":4},{"r":352.8,"h":-0.42,"s":4},{"r":353.5,"h":-0.26,"s":4},{"r":354.1,"h":-0.13,"s":4},{"r":354.8,"h":-0.16,"s":4},{"r":355.4,"h":-0.29,"s":4},{"r":356.1,"h":-0.35,"s":4},{"r":356.8,"h":-0.38,"s":4},{"r":357.4,"h":-0.26,"s":4},{"r":358.1,"h":-0.13,"s":4},{"r":358.8,"h":0.03,"s":4},{"r":359.4,"h":-0.03,"s":4},{"r":360.1,"h":-0.22,"s":4},{"r":360.8,"h":-0.38,"s":4},{"r":361.4,"h":-0.45,"s":4},{"r":362.1,"h":-0.51,"s":4},{"r":363.1,"h":-0.51,"s":4},
{"r":364.7,"h":-0.29,"s":5},{"r":365.8,"h":-0.16,"s":5},{"r":366.4,"h":-0.06,"s":5},{"r":367.1,"h":0.1,"s":5},{"r":367.8,"h":0.32,"s":5},{"r":368.4,"h":0.35,"s":5},{"r":369.1,"h":0.42,"s":5},{"r":369.8,"h":0.58,"s":5},{"r":370.4,"h":0.74,"s":5},{"r":371.1,"h":0.71,"s":5},{"r":371.8,"h":0.87,"s":5},{"r":372.4,"h":1.12,"s":5},{"r":373.1,"h":1.31,"s":5},{"r":373.8,"h":1.12,"s":5},{"r":374.4,"h":0.99,"s":5},{"r":375.1,"h":1.12,"s":5},{"r":375.7,"h":1.06,"s":5},{"r":376.4,"h":0.99,"s":5},{"r":377.1,"h":1.15,"s":5},{"r":377.7,"h":1.19,"s":5},{"r":378.4,"h":1.09,"s":5},{"r":379.1,"h":1.12,"s":5},{"r":379.7,"h":1.25,"s":5},{"r":380.4,"h":1.38,"s":5},{"r":381.1,"h":1.51,"s":5},{"r":381.7,"h":1.44,"s":5},{"r":382.4,"h":1.38,"s":5},{"r":383.1,"h":1.31,"s":5},{"r":383.7,"h":1.28,"s":5},{"r":384.4,"h":1.25,"s":5},{"r":385,"h":1.19,"s":5},{"r":385.7,"h":1.09,"s":5},{"r":386.4,"h":1.19,"s":5},{"r":387,"h":1.25,"s":5},{"r":387.7,"h":1.12,"s":5},{"r":388.4,"h":0.87,"s":5},{"r":389,"h":0.9,"s":5},{"r":389.7,"h":0.8,"s":5},{"r":390.3,"h":0.61,"s":5},{"r":391,"h":0.42,"s":5},{"r":391.7,"h":0.35,"s":5},{"r":392.3,"h":0.26,"s":5},{"r":393,"h":0.16,"s":5},{"r":393.7,"h":0.22,"s":5},{"r":394.3,"h":0.32,"s":5},{"r":395,"h":0.29,"s":5},{"r":395.7,"h":0.1,"s":5},{"r":396.3,"h":-0.13,"s":5},{"r":397,"h":-0.22,"s":5},{"r":397.7,"h":-0.26,"s":5},{"r":398.3,"h":-0.26,"s":5},{"r":399,"h":-0.29,"s":5},{"r":399.7,"h":-0.26,"s":5},{"r":400.3,"h":-0.22,"s":5},{"r":401,"h":-0.32,"s":5},{"r":401.6,"h":-0.42,"s":5},{"r":402.3,"h":-0.42,"s":5},{"r":403,"h":-0.45,"s":5},{"r":403.6,"h":-0.42,"s":5},{"r":404.3,"h":-0.38,"s":5},{"r":404.8,"h":-0.8,"s":5}
  ],
  "green": [
{"r":0.07,"h":0.19,"s":1},{"r":1.13,"h":-0.22,"s":1},{"r":3.1,"h":-0.28,"s":1},{"r":4.7,"h":-0.42,"s":1},{"r":5.8,"h":-0.1,"s":1},{"r":6.7,"h":-0.32,"s":1},{"r":7.5,"h":0.03,"s":1},{"r":8.8,"h":0.35,"s":1},{"r":9.8,"h":0.54,"s":1},{"r":10.7,"h":0.61,"s":1},{"r":11.5,"h":0.42,"s":1},{"r":12.4,"h":0.26,"s":1},{"r":13.3,"h":0.54,"s":1},{"r":14.4,"h":0.71,"s":1},{"r":15.5,"h":0.61,"s":1},{"r":16.4,"h":0.61,"s":1},{"r":17.3,"h":0.71,"s":1},{"r":18.1,"h":1.06,"s":1},{"r":18.8,"h":1.19,"s":1},{"r":19.7,"h":1.09,"s":1},
{"r":24.7,"h":1.12,"s":2},{"r":25.7,"h":1.31,"s":2},{"r":26.7,"h":1.51,"s":2},{"r":27.7,"h":1.49,"s":2},{"r":28.7,"h":1.25,"s":2},{"r":29.7,"h":1.12,"s":2},{"r":31,"h":1.12,"s":2},{"r":31.9,"h":1.06,"s":2},{"r":33,"h":0.96,"s":2},{"r":34,"h":1.06,"s":2},{"r":35,"h":1.25,"s":2},{"r":35.9,"h":1.35,"s":2},{"r":36.7,"h":1.19,"s":2},{"r":37.6,"h":0.93,"s":2},{"r":38.5,"h":0.74,"s":2},{"r":39.6,"h":0.51,"s":2},{"r":40.3,"h":0.54,"s":2},{"r":41.2,"h":0.54,"s":2},
{"r":48.6,"h":0.1,"s":3},{"r":49.2,"h":0.35,"s":3},{"r":50,"h":0.54,"s":3},{"r":50.9,"h":0.48,"s":3},{"r":51.8,"h":0.29,"s":3},{"r":52.9,"h":0.03,"s":3},{"r":53.5,"h":-0.13,"s":3},{"r":54.5,"h":0.1,"s":3},{"r":55.5,"h":0.1,"s":3},{"r":56.9,"h":0.1,"s":3},{"r":57.5,"h":-0.38,"s":3},{"r":58.5,"h":0,"s":3},{"r":59.5,"h":-0.1,"s":3},{"r":60.6,"h":-0.35,"s":3},{"r":61.5,"h":-0.67,"s":3},{"r":62.4,"h":-0.74,"s":3},{"r":63.5,"h":-0.77,"s":3},{"r":64.2,"h":-0.61,"s":3},{"r":65.1,"h":-0.8,"s":3},{"r":65.9,"h":-0.48,"s":3},{"r":66.8,"h":-0.8,"s":3},{"r":67.7,"h":-0.45,"s":3},{"r":68.8,"h":-0.61,"s":3},{"r":69.9,"h":-0.87,"s":3},{"r":70.8,"h":-0.48,"s":3},{"r":71.7,"h":-0.26,"s":3},{"r":72.8,"h":-0.32,"s":3},{"r":73.7,"h":-0.22,"s":3},{"r":74.8,"h":-0.16,"s":3},{"r":75.7,"h":-0.42,"s":3},{"r":76.5,"h":-0.1,"s":3},{"r":77.4,"h":0.03,"s":3},{"r":78.1,"h":-0.16,"s":3},{"r":79,"h":-0.16,"s":3},{"r":79.8,"h":0.26,"s":3},{"r":80.7,"h":0.19,"s":3},{"r":81.8,"h":0.48,"s":3},{"r":82.7,"h":0.71,"s":3},{"r":83.4,"h":0.51,"s":3},{"r":84.3,"h":0.48,"s":3},{"r":85.4,"h":0.51,"s":3},{"r":86,"h":0.35,"s":3},{"r":86.7,"h":0.54,"s":3},{"r":87.6,"h":0.26,"s":3},{"r":88.4,"h":0.35,"s":3},{"r":89.4,"h":0.48,"s":3},{"r":90.3,"h":0.42,"s":3},{"r":91.1,"h":0.29,"s":3},{"r":91.6,"h":0.67,"s":3},{"r":92.4,"h":0.29,"s":3},{"r":93.3,"h":0.1,"s":3},{"r":94.3,"h":0.22,"s":3},{"r":95.1,"h":0.29,"s":3},{"r":95.7,"h":-0.1,"s":3},{"r":96.7,"h":0.1,"s":3},{"r":97.6,"h":-0.35,"s":3},{"r":98.7,"h":-0.61,"s":3},{"r":99.6,"h":-0.87,"s":3},{"r":100.7,"h":-0.74,"s":3},{"r":102,"h":-0.93,"s":3},{"r":102.9,"h":-0.67,"s":3},{"r":103.7,"h":-0.48,"s":3},{"r":104.6,"h":-0.35,"s":3},{"r":105.3,"h":-0.22,"s":3},{"r":106,"h":0.03,"s":3},{"r":106.6,"h":0.03,"s":3},{"r":107.3,"h":-0.19,"s":3},{"r":108,"h":-0.35,"s":3},{"r":108.9,"h":-0.29,"s":3},{"r":110,"h":-0.16,"s":3},{"r":110.6,"h":-0.13,"s":3},{"r":111.3,"h":-0.26,"s":3},{"r":111.9,"h":-0.16,"s":3},{"r":112.6,"h":0.03,"s":3},{"r":113,"h":-0.16,"s":3},{"r":113.7,"h":-0.38,"s":3},{"r":114.2,"h":-0.1,"s":3},{"r":114.9,"h":-0.29,"s":3},{"r":115.5,"h":-0.13,"s":3},{"r":116.3,"h":0.06,"s":3},{"r":117.2,"h":0.06,"s":3},{"r":117.9,"h":0.03,"s":3},{"r":118.6,"h":0.1,"s":3},{"r":119.2,"h":0.1,"s":3},{"r":120.3,"h":0.03,"s":3},{"r":121.2,"h":0.16,"s":3},{"r":122.1,"h":0.19,"s":3},{"r":123.2,"h":0.19,"s":3},{"r":124,"h":0.19,"s":3},{"r":124.5,"h":-0.06,"s":3},{"r":125.3,"h":-0.1,"s":3},{"r":126.1,"h":-0.13,"s":3},{"r":126.9,"h":-0.22,"s":3},{"r":127.9,"h":-0.42,"s":3},{"r":128.8,"h":-0.61,"s":3},{"r":129.6,"h":-0.87,"s":3},{"r":130.2,"h":-0.77,"s":3},{"r":130.9,"h":-0.61,"s":3},{"r":131.8,"h":-0.61,"s":3},{"r":132.5,"h":-0.35,"s":3},{"r":133.2,"h":-0.16,"s":3},{"r":133.8,"h":-0.03,"s":3},{"r":134.5,"h":-0.22,"s":3},{"r":135.2,"h":-0.51,"s":3},{"r":135.8,"h":-0.71,"s":3},{"r":136.5,"h":-0.48,"s":3},{"r":137.1,"h":-0.38,"s":3},{"r":137.8,"h":-0.22,"s":3},{"r":139.1,"h":-0.26,"s":3},{"r":139.8,"h":-0.35,"s":3},{"r":140.5,"h":-0.42,"s":3},{"r":141.1,"h":-0.54,"s":3},{"r":142,"h":-0.67,"s":3},{"r":142.9,"h":-0.87,"s":3},{"r":143.8,"h":-0.96,"s":3},{"r":144.7,"h":-1.01,"s":3},{"r":145.8,"h":-0.99,"s":3},{"r":146.4,"h":-0.93,"s":3},{"r":147.1,"h":-0.79,"s":3},{"r":148.2,"h":-0.77,"s":3},{"r":148.7,"h":-0.8,"s":3},{"r":149.3,"h":-0.51,"s":3},{"r":150.2,"h":-0.42,"s":3},{"r":151.1,"h":-0.51,"s":3},{"r":151.7,"h":-0.48,"s":3},{"r":152.4,"h":-0.74,"s":3},{"r":152.9,"h":-0.9,"s":3},{"r":153.7,"h":-0.61,"s":3},{"r":154.4,"h":-0.48,"s":3},{"r":155,"h":-0.35,"s":3},{"r":156.1,"h":-0.45,"s":3},{"r":157,"h":-0.54,"s":3},{"r":157.7,"h":-0.67,"s":3},{"r":158.4,"h":-0.74,"s":3},{"r":159.3,"h":-0.77,"s":3},{"r":160.1,"h":-0.71,"s":3},{"r":161,"h":-0.64,"s":3},{"r":161.9,"h":-0.58,"s":3},{"r":163,"h":-0.64,"s":3},{"r":163.7,"h":-0.38,"s":3},{"r":164.3,"h":-0.26,"s":3},{"r":165.1,"h":-0.22,"s":3},{"r":166,"h":-0.1,"s":3},{"r":166.7,"h":0.03,"s":3},{"r":167.4,"h":0.19,"s":3},{"r":168.1,"h":0.38,"s":3},{"r":168.6,"h":0.26,"s":3},
{"r":178.7,"h":0.32,"s":4},{"r":179.6,"h":0.42,"s":4},{"r":180.5,"h":0.16,"s":4},{"r":181.3,"h":0.03,"s":4},{"r":182.2,"h":0.06,"s":4},{"r":183.5,"h":0.16,"s":4},
{"r":187.6,"h":0.29,"s":5},{"r":188.5,"h":0.48,"s":5},{"r":189.5,"h":0.51,"s":5},{"r":190.4,"h":0.8,"s":5},{"r":190.9,"h":0.96,"s":5},{"r":192,"h":0.99,"s":5},{"r":192.9,"h":1.09,"s":5},{"r":193.8,"h":0.8,"s":5},{"r":194.6,"h":0.48,"s":5},{"r":195.4,"h":0.16,"s":5},{"r":196.2,"h":-0.03,"s":5},{"r":197.1,"h":-0.06,"s":5},{"r":198,"h":-0.1,"s":5},{"r":198.8,"h":-0.22,"s":5},{"r":199.6,"h":-0.42,"s":5},{"r":200.4,"h":-0.48,"s":5},{"r":201.2,"h":-0.48,"s":5},{"r":202.1,"h":-0.42,"s":5},{"r":202.9,"h":-0.35,"s":5},{"r":203.7,"h":-0.38,"s":5},{"r":204.5,"h":-0.48,"s":5},{"r":205.5,"h":-0.61,"s":5},{"r":206.3,"h":-0.77,"s":5},{"r":207,"h":-0.87,"s":5},{"r":207.9,"h":-0.61,"s":5},{"r":208.8,"h":-0.42,"s":5},{"r":209.5,"h":-0.54,"s":5},{"r":210.1,"h":-0.8,"s":5},{"r":210.8,"h":-0.77,"s":5},{"r":211.4,"h":-0.93,"s":5},{"r":212.1,"h":-0.74,"s":5},{"r":212.8,"h":-0.48,"s":5},{"r":213.4,"h":-0.45,"s":5},{"r":214.1,"h":-0.1,"s":5},{"r":214.8,"h":0.16,"s":5},{"r":215.5,"h":0.19,"s":5},{"r":216.1,"h":-0.26,"s":5},{"r":216.8,"h":-0.13,"s":5},{"r":217.4,"h":0.03,"s":5},{"r":218.1,"h":0.22,"s":5},{"r":218.8,"h":0.35,"s":5},{"r":219.4,"h":0.38,"s":5},{"r":220.1,"h":0.16,"s":5},{"r":220.8,"h":0,"s":5},{"r":221.4,"h":0.16,"s":5},{"r":222.1,"h":0.03,"s":5},{"r":222.7,"h":0.35,"s":5},{"r":223.4,"h":0.22,"s":5},{"r":224.1,"h":0.29,"s":5},{"r":224.7,"h":0.38,"s":5},{"r":225.4,"h":0.19,"s":5},
{"r":231.6,"h":0.17,"s":6},{"r":232.7,"h":0.16,"s":6},{"r":233.3,"h":0.1,"s":6},{"r":234.3,"h":0.03,"s":6},{"r":234.9,"h":-0.06,"s":6},{"r":235.7,"h":-0.03,"s":6},{"r":236.7,"h":-0.1,"s":6},{"r":237,"h":-0.38,"s":6},{"r":237.7,"h":-0.1,"s":6},{"r":238.4,"h":0,"s":6},{"r":239.1,"h":0.1,"s":6},{"r":239.7,"h":0.06,"s":6},{"r":240.2,"h":0.22,"s":6},{"r":240.8,"h":0.48,"s":6},{"r":241.3,"h":0.42,"s":6},{"r":241.9,"h":0.42,"s":6},{"r":242.6,"h":0.48,"s":6},{"r":243.3,"h":0.22,"s":6},{"r":243.9,"h":0.22,"s":6},{"r":244.6,"h":0.1,"s":6},{"r":245.3,"h":0.35,"s":6},{"r":246.1,"h":0.48,"s":6},{"r":246.6,"h":0.38,"s":6},{"r":247.3,"h":0.54,"s":6},{"r":247.9,"h":0.71,"s":6},{"r":248.6,"h":0.42,"s":6},{"r":249.3,"h":0.26,"s":6},{"r":249.9,"h":0.42,"s":6},{"r":250.6,"h":0.45,"s":6},{"r":251.3,"h":0.64,"s":6},{"r":251.9,"h":0.67,"s":6},{"r":252.6,"h":0.77,"s":6},{"r":253.3,"h":0.83,"s":6},{"r":253.9,"h":0.67,"s":6},{"r":254.6,"h":0.93,"s":6},{"r":255.2,"h":0.99,"s":6},{"r":255.9,"h":1.06,"s":6},{"r":256.6,"h":0.96,"s":6},{"r":257.2,"h":0.71,"s":6},{"r":257.9,"h":0.93,"s":6},{"r":258.6,"h":0.96,"s":6},{"r":259.2,"h":0.9,"s":6},{"r":259.9,"h":0.87,"s":6},{"r":261,"h":0.77,"s":6},{"r":261.9,"h":0.77,"s":6},{"r":262.5,"h":0.9,"s":6},{"r":263.2,"h":1.06,"s":6},{"r":263.9,"h":1.28,"s":6},{"r":264.8,"h":1.31,"s":6},{"r":265.6,"h":1.28,"s":6},{"r":266.2,"h":1.31,"s":6},{"r":267.2,"h":1.35,"s":6},{"r":267.8,"h":1.6,"s":6},{"r":268.5,"h":1.86,"s":6},{"r":269.2,"h":1.96,"s":6},{"r":269.8,"h":1.86,"s":6},{"r":270.5,"h":1.99,"s":6},{"r":271.2,"h":2.05,"s":6},{"r":271.8,"h":1.89,"s":6},{"r":272.5,"h":2.08,"s":6},{"r":273.1,"h":2.02,"s":6},{"r":273.8,"h":2.05,"s":6},{"r":274.5,"h":2.12,"s":6},{"r":275.1,"h":2.02,"s":6},{"r":275.8,"h":2.18,"s":6},{"r":276.5,"h":2.24,"s":6},{"r":277.1,"h":2.21,"s":6},{"r":277.8,"h":2.24,"s":6},{"r":278.5,"h":2.28,"s":6},{"r":279.1,"h":2.18,"s":6},{"r":279.8,"h":2.18,"s":6},{"r":280.5,"h":2.05,"s":6},{"r":281.1,"h":2.24,"s":6},{"r":281.8,"h":2.34,"s":6},{"r":282.5,"h":2.18,"s":6},{"r":283.1,"h":2.15,"s":6},{"r":283.8,"h":2.05,"s":6},{"r":284.4,"h":1.99,"s":6},{"r":285.1,"h":1.76,"s":6},{"r":285.8,"h":1.63,"s":6},{"r":286.4,"h":1.6,"s":6},{"r":287.1,"h":1.44,"s":6},{"r":287.7,"h":1.28,"s":6},{"r":288.4,"h":1.06,"s":6},{"r":289.1,"h":0.83,"s":6},{"r":289.7,"h":0.54,"s":6},{"r":290.4,"h":0.48,"s":6},{"r":291.1,"h":0.26,"s":6},{"r":291.7,"h":0.06,"s":6},{"r":292.4,"h":0.22,"s":6},{"r":293.1,"h":0.32,"s":6},{"r":293.7,"h":0.42,"s":6},{"r":294.4,"h":0.35,"s":6},{"r":295.1,"h":0.22,"s":6},{"r":295.8,"h":0.26,"s":6},{"r":296.4,"h":0.06,"s":6},{"r":297.1,"h":-0.16,"s":6},{"r":297.8,"h":-0.1,"s":6},{"r":298.4,"h":0.03,"s":6},{"r":299.1,"h":0.22,"s":6},{"r":299.7,"h":0.29,"s":6},{"r":300.4,"h":0.19,"s":6},{"r":301.1,"h":0.13,"s":6},{"r":301.7,"h":0.13,"s":6},{"r":302.4,"h":0.16,"s":6},{"r":303.1,"h":0.19,"s":6},{"r":303.7,"h":0.22,"s":6},{"r":304.3,"h":0.19,"s":6},{"r":305,"h":0.29,"s":6},{"r":305.7,"h":0.42,"s":6},{"r":306.3,"h":0.67,"s":6},{"r":307,"h":0.71,"s":6},{"r":307.6,"h":0.64,"s":6},{"r":308.3,"h":0.74,"s":6},{"r":309,"h":0.83,"s":6},{"r":309.7,"h":1.03,"s":6},{"r":310.3,"h":1.38,"s":6},{"r":311,"h":1.63,"s":6},{"r":311.6,"h":1.6,"s":6},{"r":312.3,"h":1.51,"s":6},{"r":312.9,"h":1.35,"s":6},{"r":313.6,"h":1.47,"s":6},{"r":314.3,"h":1.31,"s":6},{"r":314.9,"h":1.38,"s":6},{"r":315.6,"h":1.44,"s":6},{"r":316.3,"h":1.63,"s":6},{"r":316.9,"h":1.35,"s":6},{"r":317.5,"h":1.25,"s":6},{"r":318.3,"h":1.35,"s":6},{"r":319.3,"h":1.51,"s":6},{"r":320.3,"h":1.6,"s":6},{"r":321.2,"h":1.7,"s":6},{"r":322,"h":1.7,"s":6},{"r":322.9,"h":1.89,"s":6},{"r":323.6,"h":1.73,"s":6},{"r":324.2,"h":1.6,"s":6},{"r":325.2,"h":1.51,"s":6},{"r":326,"h":1.57,"s":6},{"r":326.6,"h":1.73,"s":6},{"r":327.3,"h":1.89,"s":6},{"r":327.9,"h":1.79,"s":6},{"r":328.9,"h":1.67,"s":6},
{"r":330.9,"h":1.41,"s":7},{"r":331.5,"h":1.31,"s":7},{"r":332.2,"h":1.51,"s":7},{"r":332.9,"h":1.67,"s":7},{"r":333.5,"h":1.57,"s":7},{"r":334.2,"h":1.51,"s":7},{"r":335.5,"h":1.51,"s":7},{"r":336.2,"h":1.54,"s":7},{"r":336.9,"h":1.6,"s":7},{"r":337.5,"h":1.44,"s":7},{"r":338.2,"h":1.31,"s":7},{"r":338.9,"h":1.12,"s":7},{"r":339.5,"h":0.87,"s":7},{"r":340.2,"h":0.71,"s":7},{"r":340.8,"h":0.87,"s":7},{"r":341.5,"h":0.93,"s":7},{"r":342.2,"h":0.61,"s":7},{"r":342.8,"h":0.48,"s":7},{"r":343.5,"h":0.35,"s":7},{"r":344.2,"h":0.29,"s":7},{"r":344.8,"h":0.38,"s":7},{"r":345.9,"h":0.35,"s":7},{"r":346.8,"h":0.32,"s":7},{"r":347.5,"h":0.29,"s":7},{"r":348.2,"h":0.26,"s":7},{"r":349.5,"h":0.22,"s":7},
{"r":353.2,"h":0.51,"s":8},{"r":354.1,"h":0.77,"s":8},{"r":355,"h":0.8,"s":8},{"r":355.8,"h":0.71,"s":8},{"r":356.8,"h":0.67,"s":8},{"r":357.4,"h":0.32,"s":8},{"r":358.1,"h":0.26,"s":8},{"r":359.2,"h":0.24,"s":8},{"r":360.1,"h":0.22,"s":8},{"r":360.8,"h":0.42,"s":8},{"r":361.4,"h":0.61,"s":8},{"r":362.1,"h":0.77,"s":8},{"r":362.7,"h":0.67,"s":8},{"r":363.4,"h":0.8,"s":8},{"r":364.1,"h":1.03,"s":8},{"r":364.7,"h":1.19,"s":8},{"r":365.4,"h":1.35,"s":8},{"r":366.3,"h":1.57,"s":8},{"r":367.1,"h":1.65,"s":8},{"r":368,"h":1.63,"s":8},{"r":368.7,"h":1.6,"s":8},{"r":370,"h":1.6,"s":8},{"r":371.4,"h":1.6,"s":8},{"r":372.7,"h":1.54,"s":8},{"r":373.6,"h":1.31,"s":8},{"r":374.3,"h":1.25,"s":8},{"r":375.1,"h":1.44,"s":8},{"r":376,"h":1.67,"s":8},{"r":376.9,"h":1.89,"s":8},{"r":377.7,"h":2.12,"s":8},{"r":378.4,"h":2.24,"s":8},{"r":379.1,"h":2.24,"s":8},{"r":379.7,"h":2.12,"s":8},{"r":380.4,"h":1.86,"s":8},{"r":381,"h":1.73,"s":8},{"r":381.7,"h":1.79,"s":8},{"r":382.4,"h":1.47,"s":8},{"r":383,"h":1.35,"s":8},{"r":383.7,"h":1.31,"s":8},{"r":384.3,"h":1.22,"s":8},{"r":385,"h":1.19,"s":8},{"r":385.7,"h":1.03,"s":8},{"r":386.3,"h":0.9,"s":8},{"r":387,"h":0.83,"s":8},{"r":388.6,"h":0.8,"s":8},{"r":390.6,"h":0.67,"s":8},{"r":392.1,"h":0.61,"s":8},{"r":392.9,"h":0.42,"s":8},{"r":393.7,"h":0.32,"s":8},{"r":394.4,"h":0.45,"s":8},{"r":395,"h":0.44,"s":8},{"r":395.6,"h":0.29,"s":8},{"r":396.3,"h":0.26,"s":8},{"r":397,"h":0.16,"s":8},{"r":397.6,"h":0.22,"s":8},{"r":398.4,"h":0.03,"s":8}
  ]
},
"spacing": 36,
"vconcat": [
 {
  "width": 1019, "height": 312,
  "title": {"text": "A", "anchor": "start", "frame": "group", "fontSize": 30, "baseline": "alphabetic", "offset": -23.4},
  "layer": [
   {"data": {"name": "tmsA"}, "mark": {"type": "rect", "color": "orange", "opacity": 0.25},
    "encoding": {
     "x": {"field": "start", "type": "quantitative", "title": null, "scale": {"domain": [0, 786], "nice": false, "zero": false}, "axis": {"values": [0,75,150,225,300,375,450,525,600,675,750], "format": "d", "title": null}},
     "x2": {"field": "end"}}},
   {"data": {"name": "regionsA"}, "mark": {"type": "rect", "opacity": 0.25},
    "encoding": {
     "x": {"field": "start", "type": "quantitative", "title": null, "scale": {"domain": [0, 786], "nice": false, "zero": false}, "axis": {"values": [0,75,150,225,300,375,450,525,600,675,750], "format": "d", "title": null}},
     "x2": {"field": "end"},
     "color": {"field": "half", "type": "nominal", "scale": {"domain": ["first", "second"], "range": ["blue", "green"]}, "legend": null}}},
   {"data": {"values": [{}]}, "mark": {"type": "rule", "color": "black", "strokeWidth": 2.8},
    "encoding": {"y": {"datum": 0, "type": "quantitative", "scale": {"domain": [-3, 3], "nice": false, "zero": false}, "axis": {"values": [-3,-2,-1,0,1,2,3], "format": "d", "title": "Hydropathy", "titleAngle": -90, "titleX": -84.5, "titleY": 156, "titleAlign": "center", "titleBaseline": "alphabetic"}}}},
   {"data": {"name": "red"}, "mark": {"type": "line", "color": "#ff0000", "strokeWidth": 2.2},
    "encoding": {
     "x": {"field": "r", "type": "quantitative", "title": null, "scale": {"domain": [0, 786], "nice": false, "zero": false}, "axis": {"values": [0,75,150,225,300,375,450,525,600,675,750], "format": "d", "title": null}},
     "y": {"field": "h", "type": "quantitative", "scale": {"domain": [-3, 3], "nice": false, "zero": false}, "axis": {"values": [-3,-2,-1,0,1,2,3], "format": "d", "title": "Hydropathy", "titleAngle": -90, "titleX": -84.5, "titleY": 156, "titleAlign": "center", "titleBaseline": "alphabetic"}}}},
   {"data": {"name": "pfA"}, "mark": {"type": "rule", "color": "#ff0000", "strokeWidth": 10, "strokeCap": "butt"},
    "encoding": {
     "x": {"field": "start", "type": "quantitative", "title": null, "scale": {"domain": [0, 786], "nice": false, "zero": false}, "axis": {"values": [0,75,150,225,300,375,450,525,600,675,750], "format": "d", "title": null}},
     "x2": {"field": "end"},
     "y": {"datum": -2.71, "type": "quantitative", "scale": {"domain": [-3, 3], "nice": false, "zero": false}, "axis": {"values": [-3,-2,-1,0,1,2,3], "format": "d", "title": "Hydropathy", "titleAngle": -90, "titleX": -84.5, "titleY": 156, "titleAlign": "center", "titleBaseline": "alphabetic"}}}},
   {"data": {"name": "pfA"}, "mark": {"type": "text", "color": "black", "fontSize": 23, "font": "DejaVu Sans", "align": "center", "baseline": "alphabetic"},
    "encoding": {
     "x": {"field": "center", "type": "quantitative", "title": null, "scale": {"domain": [0, 786], "nice": false, "zero": false}, "axis": {"values": [0,75,150,225,300,375,450,525,600,675,750], "format": "d", "title": null}},
     "y": {"datum": -2.51, "type": "quantitative", "scale": {"domain": [-3, 3], "nice": false, "zero": false}, "axis": {"values": [-3,-2,-1,0,1,2,3], "format": "d", "title": "Hydropathy", "titleAngle": -90, "titleX": -84.5, "titleY": 156, "titleAlign": "center", "titleBaseline": "alphabetic"}},
     "text": {"field": "name"}}}
  ]
 },
 {
  "width": 1019, "height": 312,
  "title": {"text": "B", "anchor": "start", "frame": "group", "fontSize": 30, "baseline": "alphabetic", "offset": -23.4},
  "layer": [
   {"data": {"name": "spansB"}, "mark": {"type": "rect", "color": "#93e6c4"},
    "encoding": {
     "x": {"field": "start", "type": "quantitative", "scale": {"domain": [0, 405], "nice": false, "zero": false}, "axis": {"values": [0,50,100,150,200,250,300,350,400], "format": "d", "title": "Residue position", "titleX": 509.5, "titleY": 89.3, "titleAlign": "center", "titleBaseline": "alphabetic"}},
     "x2": {"field": "end"}}},
   {"data": {"values": [{}]}, "mark": {"type": "rule", "color": "black", "strokeWidth": 2.8},
    "encoding": {"y": {"datum": 0, "type": "quantitative", "scale": {"domain": [-3, 3], "nice": false, "zero": false}, "axis": {"values": [-3,-2,-1,0,1,2,3], "format": "d", "title": "Hydropathy", "titleAngle": -90, "titleX": -84.5, "titleY": 156, "titleAlign": "center", "titleBaseline": "alphabetic"}}}},
   {"data": {"name": "blue"}, "mark": {"type": "line", "color": "#0000ff", "strokeWidth": 2.2},
    "encoding": {
     "x": {"field": "r", "type": "quantitative", "scale": {"domain": [0, 405], "nice": false, "zero": false}, "axis": {"values": [0,50,100,150,200,250,300,350,400], "format": "d", "title": "Residue position", "titleX": 509.5, "titleY": 89.3, "titleAlign": "center", "titleBaseline": "alphabetic"}},
     "y": {"field": "h", "type": "quantitative", "scale": {"domain": [-3, 3], "nice": false, "zero": false}, "axis": {"values": [-3,-2,-1,0,1,2,3], "format": "d", "title": "Hydropathy", "titleAngle": -90, "titleX": -84.5, "titleY": 156, "titleAlign": "center", "titleBaseline": "alphabetic"}},
     "detail": {"field": "s", "type": "nominal"}}},
   {"data": {"name": "green"}, "mark": {"type": "line", "color": "#008000", "strokeWidth": 2.2},
    "encoding": {
     "x": {"field": "r", "type": "quantitative", "scale": {"domain": [0, 405], "nice": false, "zero": false}, "axis": {"values": [0,50,100,150,200,250,300,350,400], "format": "d", "title": "Residue position", "titleX": 509.5, "titleY": 89.3, "titleAlign": "center", "titleBaseline": "alphabetic"}},
     "y": {"field": "h", "type": "quantitative", "scale": {"domain": [-3, 3], "nice": false, "zero": false}, "axis": {"values": [-3,-2,-1,0,1,2,3], "format": "d", "title": "Hydropathy", "titleAngle": -90, "titleX": -84.5, "titleY": 156, "titleAlign": "center", "titleBaseline": "alphabetic"}},
     "detail": {"field": "s", "type": "nominal"}}}
  ]
 }
]
}
